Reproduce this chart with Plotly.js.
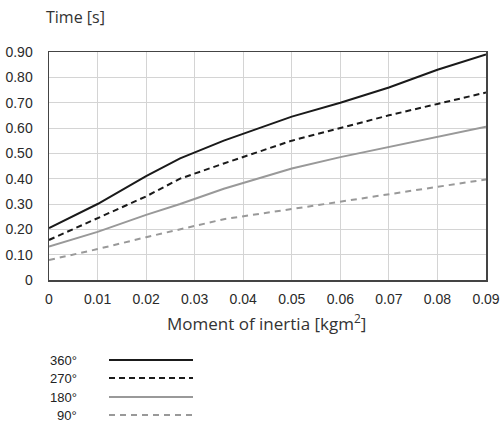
<!DOCTYPE html>
<html><head><meta charset="utf-8">
<script src="https://cdn.plot.ly/plotly-3.0.1.min.js"></script>
<style>body{margin:0;background:#fff}#chart{width:500px;height:425px}</style>
</head><body><div id="chart"></div>
<script>
const inertia = [0, 0.01, 0.02, 0.027, 0.036, 0.05, 0.06, 0.07, 0.08, 0.09];
const t360 = [0.205, 0.30, 0.41, 0.48, 0.55, 0.645, 0.70, 0.76, 0.83, 0.89];
const t270 = [0.158, 0.245, 0.33, 0.40, 0.46, 0.55, 0.60, 0.65, 0.695, 0.74];
const t180 = [0.132, 0.19, 0.257, 0.30, 0.36, 0.44, 0.485, 0.525, 0.565, 0.605];
const t90  = [0.079, 0.122, 0.169, 0.20, 0.24, 0.28, 0.309, 0.34, 0.368, 0.397];
const seriesNames = ['360°', '270°', '180°', '90°'];
const xTickVals = [0, 0.01, 0.02, 0.03, 0.04, 0.05, 0.06, 0.07, 0.08, 0.09];
const xTickText = ['0', '0.01', '0.02', '0.03', '0.04', '0.05', '0.06', '0.07', '0.08', '0.09'];
const yTickVals = [0, 0.1, 0.2, 0.3, 0.4, 0.5, 0.6, 0.7, 0.8, 0.9];
const yTickText = ['0', '0.10', '0.20', '0.30', '0.40', '0.50', '0.60', '0.70', '0.80', '0.90'];

const styles = [
  {color: '#1a1a1a', dash: 'solid'},
  {color: '#1a1a1a', dash: '6px,4px'},
  {color: '#999999', dash: 'solid'},
  {color: '#999999', dash: '6px,5px'}
];
const ys = [t360, t270, t180, t90];
const traces = ys.map((y, i) => ({
  x: inertia, y: y, type: 'scatter', mode: 'lines', name: seriesNames[i],
  line: {color: styles[i].color, dash: styles[i].dash, width: 2},
  showlegend: false, hoverinfo: 'skip'
}));

const legRowsY = [360, 378, 397, 415];
const H = 425, W = 500, mL = 49, mR = 14, mT = 52, mB = 145;
const pw = W - mL - mR, ph = H - mT - mB;
const px = x => (x - mL) / pw;
const py = y => (H - mB - y) / ph;
const annotations = [
  {text: 'Time [s]', x: px(44), y: py(17), xref: 'paper', yref: 'paper', xanchor: 'left', yanchor: 'middle',
   showarrow: false, font: {family: 'Open Sans, Noto Sans, sans-serif', size: 16, color: '#333'}},
  {text: 'Moment of inertia [kgm<sup>2</sup>]', x: px(266), y: py(322), xref: 'paper', yref: 'paper',
   xanchor: 'center', yanchor: 'middle', showarrow: false,
   font: {family: 'Open Sans, Noto Sans, sans-serif', size: 17, color: '#333'}}
];
const shapes = [];
seriesNames.forEach((n, i) => {
  annotations.push({text: n, x: px(79), y: py(legRowsY[i]), xref: 'paper', yref: 'paper',
    xanchor: 'right', yanchor: 'middle', showarrow: false,
    font: {family: 'Liberation Sans, Arial, sans-serif', size: 13, color: '#222'}});
  shapes.push({type: 'line', xref: 'paper', yref: 'paper', x0: px(109), x1: px(193),
    y0: py(legRowsY[i]), y1: py(legRowsY[i]),
    line: {color: styles[i].color, dash: styles[i].dash, width: 2}});
});

const layout = {
  width: W, height: H,
  margin: {l: mL, r: mR, t: mT, b: mB},
  paper_bgcolor: '#fff', plot_bgcolor: '#fff',
  xaxis: {range: [0, 0.09], tickvals: xTickVals, ticktext: xTickText, showgrid: true,
    gridcolor: '#d4d4d4', gridwidth: 1, zeroline: false, showline: true, linecolor: '#444',
    linewidth: 1.5, mirror: true, ticks: '', ticklabelstandoff: 6,
    tickfont: {family: 'Liberation Sans, Arial, sans-serif', size: 14, color: '#2a2a2a'}},
  yaxis: {range: [0, 0.9], tickvals: yTickVals, ticktext: yTickText, showgrid: true,
    gridcolor: '#d4d4d4', gridwidth: 1, zeroline: false, showline: true, linecolor: '#444',
    linewidth: 1.5, mirror: true, ticks: '', ticklabelstandoff: 12,
    tickfont: {family: 'Liberation Sans, Arial, sans-serif', size: 14, color: '#2a2a2a'}},
  annotations: annotations, shapes: shapes, showlegend: false
};
Plotly.newPlot('chart', traces, layout, {staticPlot: true, displayModeBar: false});
</script></body></html>
